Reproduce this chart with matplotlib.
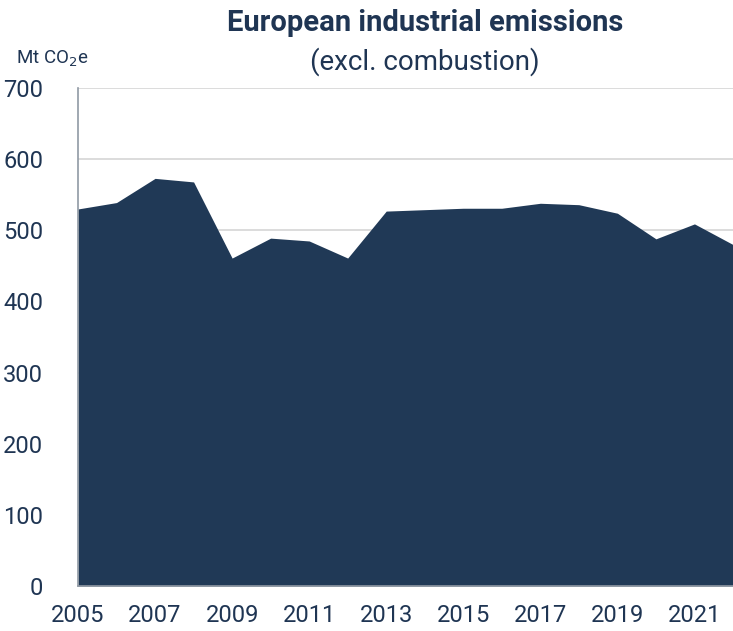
import matplotlib
matplotlib.use("Agg")
import matplotlib.pyplot as plt
import numpy as np

# emissions (Mt CO2e)
years = list(range(2005, 2023))
emissions = [530, 539, 573, 568, 461, 489, 485, 461, 527, 529,
             531, 531, 538, 536, 524, 488, 509, 480]
y_ticks = [0, 100, 200, 300, 400, 500, 600, 700]
x_ticks = list(range(2005, 2022, 2))

NAVY = "#203956"
TEXT = "#1f3553"

plt.rcParams['font.family'] = ['Roboto', 'DejaVu Sans']

fig = plt.figure(figsize=(7.33, 6.31), dpi=100)
ax = fig.add_axes([0.1064, 0.0713, 0.8936, 0.7892])

ax.fill_between(years, emissions, 0, color=NAVY, linewidth=0, zorder=2)

ax.set_xlim(2005, 2022)
ax.set_ylim(0, 700)
ax.set_yticks(y_ticks)
ax.set_xticks(x_ticks)
ax.yaxis.grid(True, color="#d6d6d6", linewidth=1.2, zorder=0)
ax.set_axisbelow(True)

for s in ["top", "right"]:
    ax.spines[s].set_visible(False)
for s in ["left", "bottom"]:
    ax.spines[s].set_color("#9099a4")
    ax.spines[s].set_linewidth(1.2)

ax.tick_params(axis="both", length=0, labelsize=17, labelcolor=TEXT)
ax.tick_params(axis="y", pad=25)
ax.tick_params(axis="x", pad=13)

fig.text(0.58, 0.963, "European industrial emissions", ha="center", va="center",
         fontsize=21, fontweight="bold", color=TEXT)
fig.text(0.58, 0.903, "(excl. combustion)", ha="center", va="center",
         fontsize=20, color=TEXT)
fig.text(0.022, 0.906, "Mt CO$_2$e", ha="left", va="center",
         fontsize=13.5, color=TEXT)

fig.savefig("out.png", dpi=100)
